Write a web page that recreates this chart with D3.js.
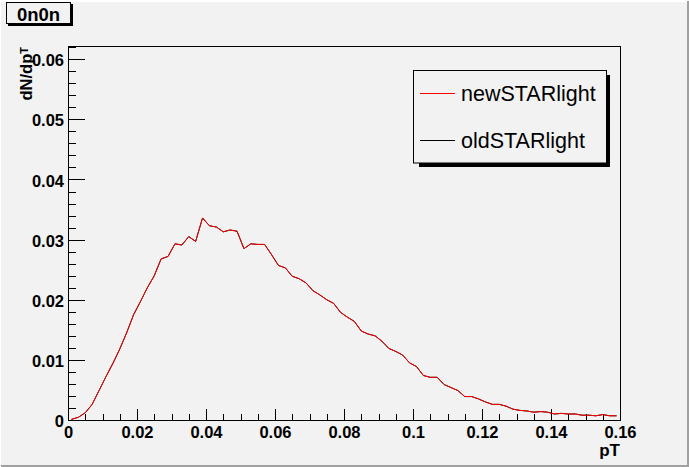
<!DOCTYPE html>
<html>
<head>
<meta charset="utf-8">
<script src="https://cdn.jsdelivr.net/npm/d3@7"></script>
<style>
    html, body { margin: 0; padding: 0; background: #f2f2f2; }
    svg { display: block; font-family: "Liberation Sans", Arial, sans-serif; }
    .axis text { font-weight: bold; font-size: 16.5px; fill: #000; }
    .axis path.domain { display: none; }
    .axis line { stroke: #000; shape-rendering: crispEdges; }
</style>
</head>
<body>
<div id="chart"></div>
<script>
// histogram range and per-bin contents (dN/dpT)
const pTRange = [0, 0.16];
const newSTARlight = [
    0.0001, 0.00045, 0.0012, 0.0026, 0.0049, 0.0072, 0.0094, 0.0118, 0.0145, 0.0175,
    0.0197, 0.0220, 0.0240, 0.0268, 0.0272, 0.0293, 0.0291, 0.0305, 0.0297, 0.0336,
    0.0323, 0.0321, 0.0313, 0.0316, 0.0314, 0.0285, 0.0293, 0.0292, 0.0292, 0.0275,
    0.0257, 0.0253, 0.0239, 0.0235, 0.0228, 0.0215, 0.0208, 0.0200, 0.0194, 0.0179,
    0.0171, 0.0164, 0.0148, 0.0143, 0.0140, 0.0131, 0.0119, 0.0114, 0.0108, 0.0095,
    0.0089, 0.0074, 0.0071, 0.0071, 0.0059, 0.0054, 0.0049, 0.0039, 0.0039, 0.0035,
    0.0030, 0.0026, 0.0026, 0.0023, 0.0018, 0.0016, 0.0015, 0.0013, 0.0014, 0.0013,
    0.0010, 0.0011, 0.0010, 0.0010, 0.0008, 0.0008, 0.0007, 0.0009, 0.0007, 0.0007
];
// the old version sits exactly under the new one
const oldSTARlight = [
    0.0001, 0.00045, 0.0012, 0.0026, 0.0049, 0.0072, 0.0094, 0.0118, 0.0145, 0.0175,
    0.0197, 0.0220, 0.0240, 0.0268, 0.0272, 0.0293, 0.0291, 0.0305, 0.0297, 0.0336,
    0.0323, 0.0321, 0.0313, 0.0316, 0.0314, 0.0285, 0.0293, 0.0292, 0.0292, 0.0275,
    0.0257, 0.0253, 0.0239, 0.0235, 0.0228, 0.0215, 0.0208, 0.0200, 0.0194, 0.0179,
    0.0171, 0.0164, 0.0148, 0.0143, 0.0140, 0.0131, 0.0119, 0.0114, 0.0108, 0.0095,
    0.0089, 0.0074, 0.0071, 0.0071, 0.0059, 0.0054, 0.0049, 0.0039, 0.0039, 0.0035,
    0.0030, 0.0026, 0.0026, 0.0023, 0.0018, 0.0016, 0.0015, 0.0013, 0.0014, 0.0013,
    0.0010, 0.0011, 0.0010, 0.0010, 0.0008, 0.0008, 0.0007, 0.0009, 0.0007, 0.0007
];
const seriesNames = ['oldSTARlight', 'newSTARlight'];
const seriesColors = ['#000000', '#ff0000'];
const legendOrder = ['newSTARlight', 'oldSTARlight'];

const xTickValues = [0, 0.02, 0.04, 0.06, 0.08, 0.1, 0.12, 0.14, 0.16];
const xTickLabels = ['0', '0.02', '0.04', '0.06', '0.08', '0.1', '0.12', '0.14', '0.16'];
const xMinorTicks = d3.range(0, 33).map(i => i * 0.005);
const yMax = 0.0622;
const yTickValues = [0, 0.01, 0.02, 0.03, 0.04, 0.05, 0.06];
const yTickLabels = ['0', '0.01', '0.02', '0.03', '0.04', '0.05', '0.06'];
const yMinorTicks = d3.range(0, 32).map(i => i * 0.002);

const title = '0n0n';
const xAxisLabel = 'pT';

function histogramChart() {
    let width = 689,
        height = 467,
        margin = {top: 46, right: 69, bottom: 47, left: 68};

    function chart(selection) {
        const svg = selection.append('svg')
            .attr('width', width)
            .attr('height', height);

        // canvas with a bevelled border, like a ROOT TCanvas
        svg.append('rect').attr('width', width).attr('height', height).attr('fill', '#f2f2f2');
        svg.append('path')
            .attr('d', `M0,${height - 1}V1H${width - 1}`)
            .attr('fill', 'none').attr('stroke', '#ffffff').attr('stroke-width', 2);
        svg.append('path')
            .attr('d', `M1,${height - 1}H${width - 1}V1`)
            .attr('fill', 'none').attr('stroke', '#a0a0a0').attr('stroke-width', 2);

        const x = d3.scaleLinear()
            .domain(pTRange)
            .range([margin.left, width - margin.right]);

        const y = d3.scaleLinear()
            .domain([0, yMax])
            .range([height - margin.bottom, margin.top]);

        const plotW = x.range()[1] - x.range()[0];
        const plotH = y.range()[0] - y.range()[1];

        // x axis: ticks point up into the frame
        const gX = svg.append('g')
            .attr('class', 'x axis')
            .attr('transform', `translate(0,${y(0)})`);
        gX.call(d3.axisBottom(x).tickValues(xMinorTicks).tickSize(-plotH * 0.016).tickFormat(''));
        gX.append('g').call(d3.axisBottom(x)
            .tickValues(xTickValues)
            .tickSize(-plotH * 0.03)
            .tickPadding(6)
            .tickFormat((d, i) => xTickLabels[i]));

        // y axis: ticks point right into the frame
        const gY = svg.append('g')
            .attr('class', 'y axis')
            .attr('transform', `translate(${x(0)},0)`);
        gY.call(d3.axisLeft(y).tickValues(yMinorTicks).tickSize(-plotW * 0.015).tickFormat(''));
        gY.append('g').call(d3.axisLeft(y)
            .tickValues(yTickValues)
            .tickSize(-plotW * 0.03)
            .tickPadding(4)
            .tickFormat((d, i) => yTickLabels[i]));
        gY.selectAll('text').attr('dy', '0.4em');

        // frame
        svg.append('rect')
            .attr('x', x.range()[0]).attr('y', y.range()[1])
            .attr('width', plotW).attr('height', plotH)
            .attr('fill', 'none').attr('stroke', '#000')
            .attr('shape-rendering', 'crispEdges');

        // curves through the bin centres
        const seriesData = [oldSTARlight, newSTARlight];
        const binWidth = (pTRange[1] - pTRange[0]) / newSTARlight.length;
        const line = d3.line()
            .x((d, i) => x(pTRange[0] + (i + 0.5) * binWidth))
            .y(d => y(d));

        svg.append('g')
            .selectAll('path')
            .data(seriesData)
            .enter().append('path')
            .attr('d', d => line(d))
            .attr('fill', 'none')
            .attr('stroke', (d, i) => seriesColors[i])
            .attr('stroke-width', 1);

        // axis titles
        svg.append('text')
            .attr('x', x.range()[1])
            .attr('y', height - 11)
            .attr('text-anchor', 'end')
            .attr('font-weight', 'bold')
            .attr('font-size', 17)
            .text(xAxisLabel);

        const yTitle = svg.append('text')
            .attr('transform', `translate(32,${margin.top + 1}) rotate(-90)`)
            .attr('text-anchor', 'end')
            .attr('font-weight', 'bold')
            .attr('font-size', 16.5);
        yTitle.append('tspan').text('dN/dp');
        yTitle.append('tspan').attr('font-size', 11).attr('dy', -4.5).text('T');

        // title box
        const gTitle = svg.append('g');
        gTitle.append('rect')
            .attr('x', 8).attr('y', 4).attr('width', 65).attr('height', 22)
            .attr('fill', '#000');
        gTitle.append('rect')
            .attr('x', 6.5).attr('y', 2.5).attr('width', 64).attr('height', 21)
            .attr('fill', '#f2f2f2').attr('stroke', '#000');
        gTitle.append('text')
            .attr('x', 38.5).attr('y', 21)
            .attr('text-anchor', 'middle')
            .attr('font-weight', 'bold')
            .attr('font-size', 18.5)
            .text(title);

        // legend
        const gLegend = svg.append('g');
        gLegend.append('rect')
            .attr('x', 419).attr('y', 75).attr('width', 191).attr('height', 92)
            .attr('fill', '#000');
        gLegend.append('rect')
            .attr('x', 413.5).attr('y', 70.5).attr('width', 193).attr('height', 92.5)
            .attr('fill', '#f2f2f2').attr('stroke', '#000');

        const entries = gLegend.selectAll('g.entry')
            .data(legendOrder)
            .enter().append('g')
            .attr('class', 'entry')
            .attr('transform', (d, i) => `translate(0,${93.5 + i * 46.5})`);
        entries.append('line')
            .attr('x1', 420).attr('x2', 455)
            .attr('stroke', d => seriesColors[seriesNames.indexOf(d)])
            .attr('shape-rendering', 'crispEdges');
        entries.append('text')
            .attr('x', 461)
            .attr('y', 7.5)
            .attr('font-size', 21.5)
            .text(d => d);
    }

    chart.width = function (value) {
        if (!arguments.length) return width;
        width = value;
        return chart;
    };

    chart.height = function (value) {
        if (!arguments.length) return height;
        height = value;
        return chart;
    };

    return chart;
}

d3.select('#chart').call(histogramChart());
</script>
</body>
</html>
